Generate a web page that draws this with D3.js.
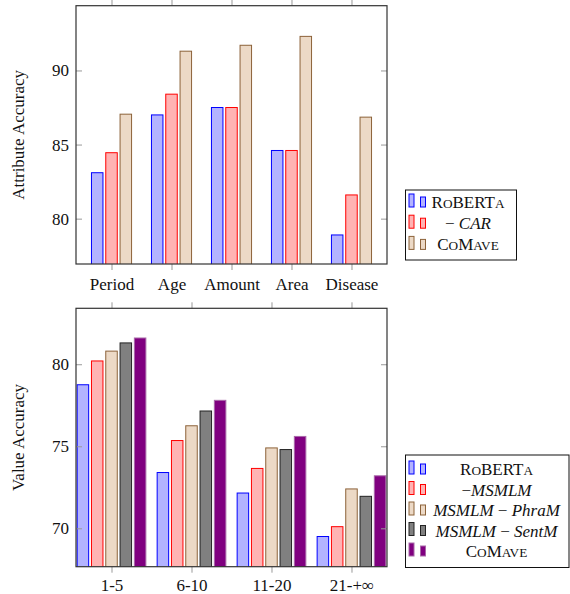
<!DOCTYPE html>
<html>
<head>
<meta charset="utf-8">
<script src="https://cdn.jsdelivr.net/npm/d3@7"></script>
<style>
  body { margin: 0; background: #fff; }
  svg text { font-family: "Liberation Serif", "Times New Roman", serif; fill: #111; }
</style>
</head>
<body>
<div id="chart"></div>
<script>
// top panel: attribute accuracy
var attrCats = ["Period", "Age", "Amount", "Area", "Disease"];
var attrRoberta = [83.1, 87.0, 87.5, 84.6, 78.9];
var attrCar = [84.45, 88.4, 87.5, 84.6, 81.6];
var attrComave = [87.05, 91.3, 91.7, 92.3, 86.85];
var attrTicks = [80, 85, 90];

// bottom panel: value accuracy
var valCats = ["1-5", "6-10", "11-20", "21-+\u221E"];
var valRoberta = [78.75, 73.4, 72.15, 69.5];
var valMsmlm = [80.2, 75.35, 73.65, 70.1];
var valPhram = [80.8, 76.25, 74.9, 72.4];
var valSentm = [81.3, 77.15, 74.8, 71.95];
var valComave = [81.6, 77.8, 75.6, 73.2];
var valTicks = [70, 75, 80];

var styles = {
  blue:   { fill: "#b3b3ff", stroke: "#0000ff" },
  red:    { fill: "#ffb3b3", stroke: "#ff0000" },
  tan:    { fill: "#ecd9c6", stroke: "#8c6239" },
  gray:   { fill: "#808080", stroke: "#222222" },
  purple: { fill: "#800080", stroke: "#a868a8" }
};

// small caps done by hand: upper case letters full size, the rest smaller
var robertaLabel = [{ t: "R" }, { t: "O", sm: true }, { t: "BERT" }, { t: "A", sm: true }];
var comaveLabel = [{ t: "C" }, { t: "O", sm: true }, { t: "M" }, { t: "AVE", sm: true }];

var svg = d3.select("#chart").append("svg")
  .attr("width", 570).attr("height", 594);

var FS = 17;

function panel(cfg) {
  var left = 76, right = 387;
  var g = svg.append("g");

  var x = d3.scalePoint().domain(cfg.cats).range([left, right]).padding(cfg.pad);
  var y = d3.scaleLinear().domain(cfg.ydom).range([cfg.bottom, cfg.top]);
  var k = cfg.series.length;
  var step = 14.3, bw = 11.5;
  var off = d3.scalePoint().domain(d3.range(k)).range([-(k - 1) / 2 * step, (k - 1) / 2 * step]);

  var clipId = "clip" + cfg.id;
  svg.append("clipPath").attr("id", clipId).append("rect")
    .attr("x", left).attr("y", cfg.top).attr("width", right - left).attr("height", cfg.bottom - cfg.top);

  var bars = g.append("g").attr("clip-path", "url(#" + clipId + ")");
  cfg.series.forEach(function (s, si) {
    bars.selectAll(null).data(s.values).enter()
      .append("rect")
      .attr("x", function (d, i) { return x(cfg.cats[i]) + off(si) - bw / 2; })
      .attr("y", function (d) { return y(d); })
      .attr("width", bw)
      .attr("height", function (d) { return cfg.bottom - y(d) + 2; })
      .attr("fill", styles[s.style].fill)
      .attr("stroke", styles[s.style].stroke)
      .attr("stroke-width", 1);
  });

  // axes
  var tickCol = "#999";
  g.append("g").attr("transform", "translate(0," + cfg.bottom + ")")
    .call(d3.axisBottom(x).tickSize(6).tickPadding(cfg.xpad))
    .call(function (a) {
      a.select(".domain").remove();
      a.selectAll("line").attr("stroke", tickCol);
      a.selectAll("text").attr("font-size", FS).attr("font-family", "Liberation Serif").attr("fill", "#111");
    });
  g.append("g").attr("transform", "translate(0," + cfg.top + ")")
    .call(d3.axisTop(x).tickSize(6).tickFormat(""))
    .call(function (a) { a.select(".domain").remove(); a.selectAll("line").attr("stroke", tickCol); });
  g.append("g").attr("transform", "translate(" + left + ",0)")
    .call(d3.axisLeft(y).tickValues(cfg.ticks).tickSize(-6).tickPadding(7))
    .call(function (a) {
      a.select(".domain").remove();
      a.selectAll("line").attr("stroke", tickCol);
      a.selectAll("text").attr("font-size", FS).attr("font-family", "Liberation Serif").attr("fill", "#111");
    });
  g.append("g").attr("transform", "translate(" + right + ",0)")
    .call(d3.axisRight(y).tickValues(cfg.ticks).tickSize(-6).tickFormat(""))
    .call(function (a) { a.select(".domain").remove(); a.selectAll("line").attr("stroke", tickCol); });

  g.append("rect")
    .attr("x", left).attr("y", cfg.top)
    .attr("width", right - left).attr("height", cfg.bottom - cfg.top)
    .attr("fill", "none").attr("stroke", "#333").attr("stroke-width", 1.2);

  g.append("text")
    .attr("transform", "translate(24," + (cfg.top + cfg.bottom) / 2 + ") rotate(-90)")
    .attr("text-anchor", "middle")
    .attr("font-size", FS)
    .text(cfg.ylabel);

  // legend
  var L = cfg.legend;
  g.append("rect").attr("x", L.x).attr("y", L.y).attr("width", L.w).attr("height", L.h)
    .attr("fill", "#fff").attr("stroke", "#111").attr("stroke-width", 1);
  cfg.series.forEach(function (s, si) {
    var cy = L.y0 + si * L.dy;
    var st = styles[s.style];
    g.append("rect").attr("x", L.x + 3.5).attr("y", cy - 8.5).attr("width", 5).attr("height", 13)
      .attr("fill", st.fill).attr("stroke", st.stroke);
    g.append("rect").attr("x", L.x + 15).attr("y", cy - 5.5).attr("width", 5).attr("height", 10)
      .attr("fill", st.fill).attr("stroke", st.stroke);
    var t = g.append("text").attr("x", L.tx).attr("y", cy + 5.5)
      .attr("text-anchor", "middle").attr("font-size", FS);
    s.label.forEach(function (p) {
      var ts = t.append("tspan").text(p.t);
      if (p.it) ts.attr("font-style", "italic");
      if (p.sm) ts.attr("font-size", FS * 0.78);
    });
  });
}

panel({
  id: "a",
  cats: attrCats, pad: 0.592, xpad: 8,
  top: 5.7, bottom: 264, ydom: [76.94, 94.37], ticks: attrTicks,
  ylabel: "Attribute Accuracy",
  series: [
    { values: attrRoberta, style: "blue", label: robertaLabel },
    { values: attrCar, style: "red", label: [{ t: "\u2212 " }, { t: "CAR", it: true }] },
    { values: attrComave, style: "tan", label: comaveLabel }
  ],
  legend: { x: 405.5, y: 190, w: 111, h: 70, y0: 202.5, dy: 21.2, tx: 468 }
});

panel({
  id: "b",
  cats: valCats, pad: 0.444, xpad: 6,
  top: 308.3, bottom: 566.7, ydom: [67.66, 83.41], ticks: valTicks,
  ylabel: "Value Accuracy",
  series: [
    { values: valRoberta, style: "blue", label: robertaLabel },
    { values: valMsmlm, style: "red", label: [{ t: "\u2212" }, { t: "MSMLM", it: true }] },
    { values: valPhram, style: "tan", label: [{ t: "MSMLM", it: true }, { t: " \u2212 " }, { t: "PhraM", it: true }] },
    { values: valSentm, style: "gray", label: [{ t: "MSMLM", it: true }, { t: " \u2212 " }, { t: "SentM", it: true }] },
    { values: valComave, style: "purple", label: comaveLabel }
  ],
  legend: { x: 405.5, y: 455, w: 163.5, h: 112.5, y0: 469.5, dy: 20.5, tx: 496.5 }
});
</script>
</body>
</html>
